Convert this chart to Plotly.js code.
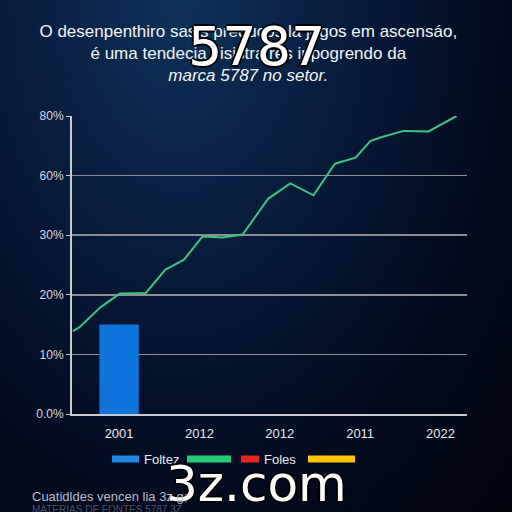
<!DOCTYPE html>
<html>
<head>
<meta charset="utf-8">
<script src="https://cdn.plot.ly/plotly-3.0.1.min.js"></script>
<style>
html,body{margin:0;padding:0;width:512px;height:512px;overflow:hidden;
background:radial-gradient(ellipse at 35% 0%, #0d325a 0%, #071b3c 35%, #030a1e 70%, #02040f 100%);}
#chart{width:512px;height:512px;}
</style>
</head>
<body>
<div id="chart"></div>
<script>
// ---- data ----
const barX = [0];
const barY = [15];
const lineX = [-0.574,-0.49,-0.232,0.009,0.333,0.574,0.807,1.04,1.288,1.538,1.854,2.13,2.419,2.686,2.943,3.126,3.25,3.541,3.851,4.2];
const lineY = [13.9,14.6,17.9,20.2,20.3,24.2,25.9,29.8,29.6,30.1,36.1,38.7,36.7,42.0,43.0,45.8,46.4,47.5,47.4,50.0];
const xTickVals = [0,1,2,3,4];
const xTickText = ["2001","2012","2012","2011","2022"];
const yTickVals = [0,10,20,30,40,50];
const yTickText = ["0.0%","10%","20%","30%","60%","80%"];
const legendNames = ["Foltez","","Foles",""];
const legendColors = ["#1e88e5","#22cc77","#e8261c","#ffc400"];

// ---- layout helpers (pixel -> paper) ----
const L=72, R=45, T=116, B=98, W=512, H=512;
const pw = W-L-R, ph = H-T-B;
const px = x => (x-L)/pw;
const py = y => (H-B-y)/ph;

const traces = [
  {type:'bar', x:barX, y:barY, width:0.49,
   marker:{color:'#0f74dc', line:{width:0}}, showlegend:false, hoverinfo:'skip'},
  {type:'scatter', mode:'lines', x:lineX, y:lineY,
   line:{color:'#3cc37f', width:2}, showlegend:false, hoverinfo:'skip'}
];

const swatches = [[112,139],[187,231],[241,259],[308,355]];
const shapes = swatches.map((s,i)=>({type:'rect', xref:'paper', yref:'paper',
  x0:px(s[0]), x1:px(s[1]), y0:py(462.5), y1:py(455.5),
  fillcolor:legendColors[i], line:{width:0}}));

const annotations = [];
legendNames.forEach((n,i)=>{
  if(n) annotations.push({xref:'paper', yref:'paper', x:px(swatches[i][1]+3), y:py(459),
    xanchor:'left', yanchor:'middle', text:n, showarrow:false,
    font:{family:'Liberation Sans, Arial, sans-serif', size:13, color:'#e6e8ee'}});
});
annotations.push({xref:'paper', yref:'paper', x:px(256), y:py(46), xanchor:'center', yanchor:'middle',
  text:'5787', showarrow:false,
  font:{family:'DejaVu Sans, sans-serif', size:54, color:'#ffffff',
        shadow:'2px 0 0 #000, -2px 0 0 #000, 0 2px 0 #000, 0 -2px 0 #000'}});
annotations.push({xref:'paper', yref:'paper', x:px(256), y:py(484), xanchor:'center', yanchor:'middle',
  text:'3z.com', showarrow:false,
  font:{family:'DejaVu Sans, sans-serif', size:50, color:'#ffffff',
        shadow:'2px 0 0 #000, -2px 0 0 #000, 0 2px 0 #000, 0 -2px 0 #000'}});
annotations.push({xref:'paper', yref:'paper', x:px(30), y:py(496), xanchor:'left', yanchor:'middle',
  text:'Cuatidldes vencen lia 3z g;', showarrow:false,
  font:{family:'Liberation Sans, Arial, sans-serif', size:13, color:'#b8bccb'}});
annotations.push({xref:'paper', yref:'paper', x:px(30), y:py(509), xanchor:'left', yanchor:'middle',
  text:'MATERIAS DE FONTES 5787 3Z', showarrow:false,
  font:{family:'Liberation Sans, Arial, sans-serif', size:10, color:'#4d5268'}});

const layout = {
  width:W, height:H,
  margin:{l:L, r:R, t:T, b:B, pad:0},
  paper_bgcolor:'rgba(0,0,0,0)', plot_bgcolor:'rgba(0,0,0,0)',
  title:{text:'O desenpenthiro sasis preducos lá jogos em ascensáo,<br>é uma tendecia Jisistratres inpogrendo da<br><i>marca 5787 no setor.</i>',
    x:0.485, xref:'container', y:1-37/512, yref:'container', yanchor:'top', xanchor:'center',
    font:{family:'Liberation Sans, Arial, sans-serif', size:17, color:'#f2f4f8'}},
  xaxis:{range:[-0.586,4.33], tickvals:xTickVals, ticktext:xTickText,
    showgrid:false, zeroline:false, showline:true, linecolor:'#c8cad0', linewidth:2,
    ticks:'', tickfont:{family:'Liberation Sans, Arial, sans-serif', size:13, color:'#e8e9ee'},
    ticklabelstandoff:6},
  yaxis:{range:[0,50], tickvals:yTickVals, ticktext:yTickText,
    showgrid:true, gridcolor:'#8a8d96', gridwidth:1.5, zeroline:false,
    showline:true, linecolor:'#c8cad0', linewidth:2,
    ticks:'outside', ticklen:4, tickcolor:'#c8cad0',
    tickfont:{family:'Liberation Sans, Arial, sans-serif', size:12, color:'#d8dae2'}},
  shapes:shapes, annotations:annotations, showlegend:false
};

Plotly.newPlot('chart', traces, layout, {staticPlot:true, displayModeBar:false});
</script>
</body>
</html>
